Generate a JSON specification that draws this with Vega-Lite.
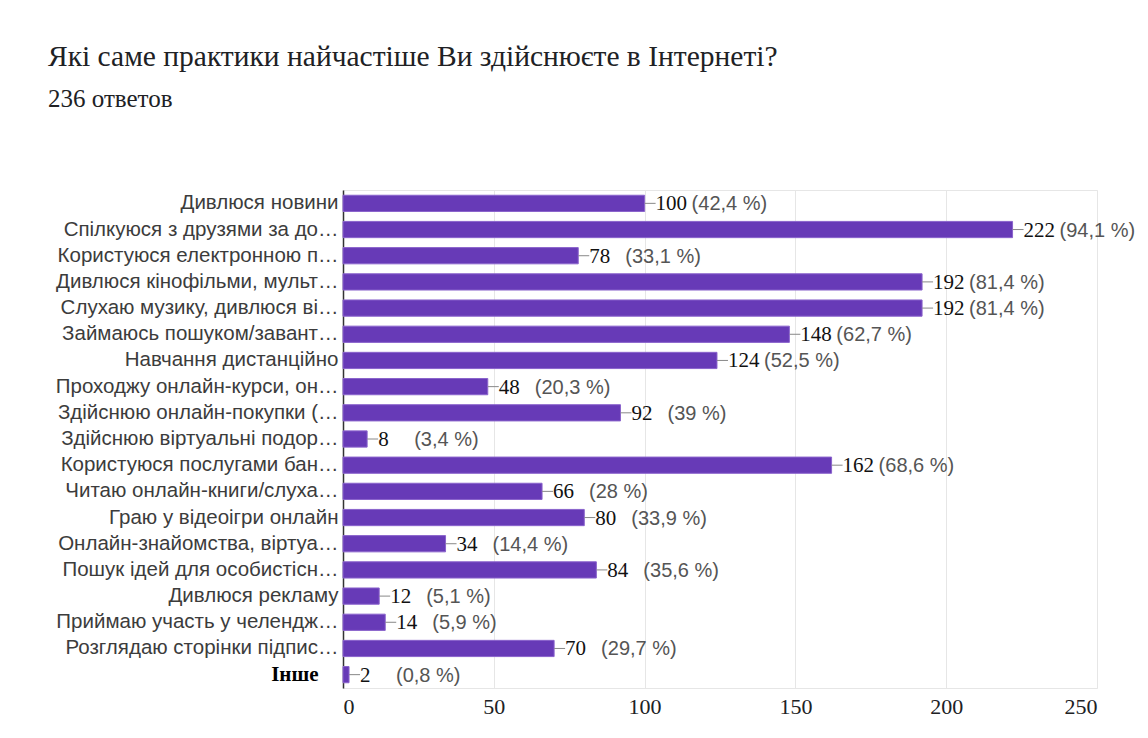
{
  "$schema": "https://vega.github.io/schema/vega-lite/v6.json",
  "width": 754,
  "height": 498,
  "autosize": {"type": "none"},
  "padding": {"left": 343, "top": 190, "right": 51, "bottom": 50},
  "background": "white",
  "title": {
    "text": "Які саме практики найчастіше Ви здійснюєте в Інтернеті?",
    "subtitle": "236 ответов",
    "anchor": "start",
    "frame": "group",
    "dx": -295,
    "offset": 77,
    "font": "Liberation Serif",
    "fontSize": 29.5,
    "fontWeight": "normal",
    "color": "#202124",
    "subtitleFont": "Liberation Serif",
    "subtitleFontSize": 25,
    "subtitleColor": "#202124",
    "subtitlePadding": 15
  },
  "data": {
    "values": [
      {"answer": "Дивлюся новини", "count": 100, "pct": "(42,4 %)"},
      {"answer": "Спілкуюся з друзями за до…", "count": 222, "pct": "(94,1 %)"},
      {"answer": "Користуюся електронною п…", "count": 78, "pct": "(33,1 %)"},
      {"answer": "Дивлюся кінофільми, мульт…", "count": 192, "pct": "(81,4 %)"},
      {"answer": "Слухаю музику, дивлюся ві…", "count": 192, "pct": "(81,4 %)"},
      {"answer": "Займаюсь пошуком/завант…", "count": 148, "pct": "(62,7 %)"},
      {"answer": "Навчання дистанційно", "count": 124, "pct": "(52,5 %)"},
      {"answer": "Проходжу онлайн-курси, он…", "count": 48, "pct": "(20,3 %)"},
      {"answer": "Здійснюю онлайн-покупки (…", "count": 92, "pct": "(39 %)"},
      {"answer": "Здійснюю віртуальні подор…", "count": 8, "pct": "(3,4 %)"},
      {"answer": "Користуюся послугами бан…", "count": 162, "pct": "(68,6 %)"},
      {"answer": "Читаю онлайн-книги/слуха…", "count": 66, "pct": "(28 %)"},
      {"answer": "Граю у відеоігри онлайн", "count": 80, "pct": "(33,9 %)"},
      {"answer": "Онлайн-знайомства, віртуа…", "count": 34, "pct": "(14,4 %)"},
      {"answer": "Пошук ідей для особистісн…", "count": 84, "pct": "(35,6 %)"},
      {"answer": "Дивлюся рекламу", "count": 12, "pct": "(5,1 %)"},
      {"answer": "Приймаю участь у челендж…", "count": 14, "pct": "(5,9 %)"},
      {"answer": "Розглядаю сторінки підпис…", "count": 70, "pct": "(29,7 %)"},
      {"answer": "Інше", "count": 2, "pct": "(0,8 %)"}
    ]
  },
  "encoding": {
    "y": {
      "field": "answer",
      "type": "nominal",
      "sort": null,
      "title": null,
      "scale": {"paddingInner": 0.38, "paddingOuter": 0.2},
      "axis": {
        "domain": true,
        "domainColor": "#333333",
        "domainWidth": 1.5,
        "ticks": false,
        "labelLimit": 400,
        "labelFont": {"condition": {"test": "datum.value == 'Інше'", "value": "Liberation Serif"}, "value": "Liberation Sans"},
        "labelFontSize": {"condition": {"test": "datum.value == 'Інше'", "value": 21}, "value": 20.5},
        "labelFontWeight": {"condition": {"test": "datum.value == 'Інше'", "value": "bold"}, "value": "normal"},
        "labelColor": {"condition": {"test": "datum.value == 'Інше'", "value": "#000000"}, "value": "#3c3c3c"},
        "labelPadding": {"condition": {"test": "datum.value == 'Інше'", "value": 25}, "value": 5}
      }
    }
  },
  "layer": [
    {
      "mark": {"type": "bar", "color": "#673ab7", "stroke": "#8a63cc", "strokeWidth": 1},
      "encoding": {
        "x": {
          "field": "count",
          "type": "quantitative",
          "scale": {"domain": [0, 250], "nice": false},
          "title": null,
          "axis": {
            "values": [0, 50, 100, 150, 200, 250],
            "domain": false,
            "ticks": false,
            "grid": true,
            "gridColor": "#e6e6e6",
            "labelFont": "Liberation Serif",
            "labelFontSize": 22,
            "labelColor": "#202124",
            "labelPadding": 8
          }
        }
      }
    },
    {
      "mark": {"type": "point", "shape": "M0,0L2,0", "size": 121, "stroke": "#888888", "strokeWidth": 1, "filled": false, "opacity": 1},
      "encoding": {
        "x": {"field": "count", "type": "quantitative"}
      }
    },
    {
      "mark": {"type": "text", "align": "left", "baseline": "middle", "dx": 11, "dy": 1, "font": "Liberation Serif", "fontSize": 21, "color": "#111111"},
      "encoding": {
        "x": {"field": "count", "type": "quantitative"},
        "text": {"field": "count", "type": "quantitative"}
      }
    },
    {
      "mark": {"type": "text", "align": "left", "baseline": "middle", "dx": 47, "dy": 1, "font": "Liberation Sans", "fontSize": 20, "color": "#555555"},
      "encoding": {
        "x": {"field": "count", "type": "quantitative"},
        "text": {"field": "pct", "type": "nominal"}
      }
    }
  ],
  "config": {
    "view": {"stroke": "#e6e6e6"}
  }
}
